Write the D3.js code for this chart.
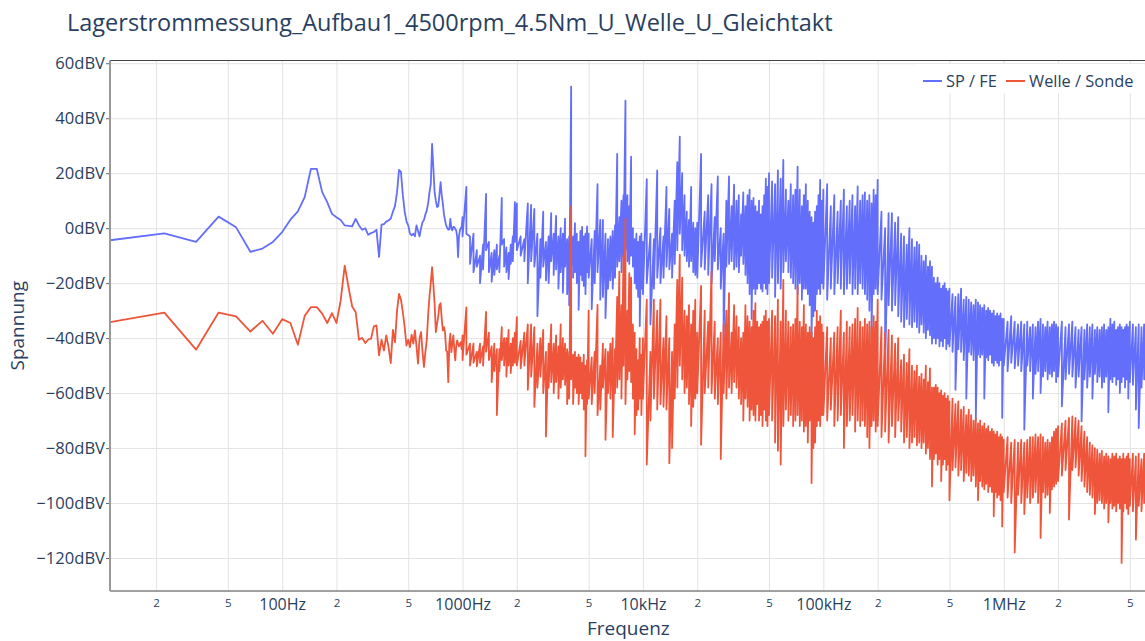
<!DOCTYPE html>
<html>
<head>
<meta charset="utf-8">
<script src="https://cdn.jsdelivr.net/npm/d3@7"></script>
<style>
  html, body { margin: 0; padding: 0; background: #fff; }
  svg text { font-family: "Open Sans", "DejaVu Sans", Arial, sans-serif; fill: #2a3f5f; }
</style>
</head>
<body>
<svg id="chart" width="1145" height="641"></svg>
<script>
// ---- Spectrum data -------------------------------------------------------
// FFT bin spacing of the measurement
const binWidthHz = 100 / 9;

// Individual FFT bins k = 1..89 (≈11 Hz .. 990 Hz), level in dBV
const spFeLowDb = [
  -4.4, -1.9, -5, 4.2, 0.3, -8.6, -7.4, -5, -1.4, 3.1,
  6.1, 11.3, 21.6, 21.6, 13.1, 9.5, 5.2, 4, 3, 1,
  0.8, 0.7, 3.4, 1, -0.6, 0, -2.4, -1.8, -1.4, -0.6,
  -10.5, 1.3, 1.5, 2.4, 2.8, 3.5, 6, 8, 13, 21.2,
  20.5, 12, 6, 2.5, 1, -2, -2.6, -2, -3, 1,
  -1, -3, 0, 2.2, 3, 5, 6.4, 9, 13, 16,
  30.7, 22, 13, 10, 7.7, 8, 12, 16.7, 12, 8.9,
  5, 2.8, 1, 0.1, -0.5, -0.5, 3.4, 0, -0.8, 0.5,
  0.4, -0.3, -0.8, -3, -10.5, -3, -0.8, 0, 0.4
];
const welleLowDb = [
  -34.2, -30.7, -44.2, -30.7, -32.1, -37.6, -33.7, -38.4, -33.1, -34.5,
  -42.4, -31.9, -28.7, -28.7, -31.1, -34.5, -30.9, -34.5, -26.3, -13.6,
  -21.5, -28.5, -30.5, -40.6, -39.9, -41.8, -40.5, -40.2, -35.7, -35.4,
  -46.3, -40.6, -44.5, -39, -43.3, -49.1, -37, -41.5, -30, -23.9,
  -26, -30.5, -36, -42.7, -40.6, -43.3, -38.7, -42, -37.2, -43,
  -49.3, -40, -37.8, -45, -50.5, -45, -40.8, -31.7, -25, -20,
  -14.2, -20.5, -27.5, -37.8, -34.8, -32, -28, -27.3, -33, -37.2,
  -36, -38, -44.5, -45, -56, -42, -38.4, -45.1, -42, -39,
  -44, -48.1, -43, -40.8, -42, -43, -42, -41.5, -44
];

// Above 1 kHz the bins are far denser than the pixel grid, so every
// frequency slot keeps the [max, min] level of the bins that fall into it.
const gridDecadesHz = [1e3, 1e4, 1e5, 1e6];
const gridMantissas = [
  1.0, 1.05, 1.1, 1.15, 1.2, 1.25, 1.3, 1.35, 1.4, 1.45, 1.5, 1.55, 1.6, 1.65, 1.7, 1.75, 1.8, 1.85, 1.9, 1.95,
  2.0, 2.1, 2.2, 2.3, 2.4, 2.5, 2.6, 2.7, 2.8, 2.9, 3.0, 3.1, 3.2, 3.3, 3.4, 3.5, 3.6, 3.7, 3.8, 3.9,
  4.0, 4.1, 4.2, 4.3, 4.4, 4.5, 4.6, 4.7, 4.8, 4.9,
  5.0, 5.2, 5.4, 5.6, 5.8, 6.0, 6.2, 6.4, 6.6, 6.8, 7.0, 7.2, 7.4, 7.6, 7.8, 8.0, 8.2, 8.4, 8.6, 8.8,
  9.0, 9.2, 9.4, 9.6, 9.8
];

// SP / FE  [max, min] per slot
const spFe1k = [
  [4,-3],[15,-2],[-3,-13],[-2,-16],[-8,-14],[-10,-20],[-6,-15],[12.5,-8],[-5,-16],[-9,-19.5],
  [-8,-17],[-6,-15],[-10,-16],[11,-6],[-4,-14],[-7,-16],[-9,-18.5],[-6,-13],[-3,-12],[9.5,-5],
  [9,-8],[-3,-10],[-4,-12],[9,-20],[8.5,-12],[7,-14],[-2,-32],[-4,-18],[6,-14],[-5,-19],
  [-3,-20],[5.5,-12],[-2,-17],[4.5,-15],[-3,-22],[0,-16],[-2,-23.5],[3.5,-14],[-4,-24],[-3,-28],
  [51.5,-14],[-3,-18],[1.8,-16],[-2,-20],[-5,-29.7],[-1,-17],[0.5,-19],[-3,-21],[-2,-24],[0.6,-16],
  [-2,-18],[-4,-29.5],[-1,-20],[16,-16],[3,-26],[3,-25],[-2,-32.7],[-4,-22],[-3,-19],[-1,-22],
  [1,-18],[27,-14],[4,-12],[10,-16],[12,-10],[46.4,-8],[12,-12],[8,-13],[26,-10],[0,-14],
  [-4,-20],[-2,-22],[-5,-25],[-3,-35.6],[-2,-22]
];
const spFe10k = [
  [-5,-24],[17.8,-20],[-2,-35],[-4,-22],[21,-18],[0,-20],[-3,-18],[15,-14],[7,-15],[-2,-18],
  [10,-13],[24,-8],[33.3,-2],[20,-8],[12,-10],[6,-12],[3,-14],[15,-12],[2,-16],[0,-17],
  [2,-18],[27,-14],[6,-15],[12,-17],[16,-20],[4,-12],[18.8,-15],[0,-22],[-2,-41],[10,-14],
  [18.8,-13],[8,-12],[15.8,-15],[10,-14],[12,-16],[5,-10],[13,-13],[8,-17],[12,-20],[14,-24],
  [10,-33],[11,-22],[8,-24],[6,-22],[10,-20],[5,-22],[8,-23],[12,-20],[18,-22],[15,-24],
  [20,-20],[17,-18],[16,-25],[21,-20],[18,-22],[24.8,-16],[14,-12],[10,-16],[16,-18],[12,-20],
  [14,-22],[22.4,-24],[14,-20],[8,-26],[12,-22],[16,-22],[10,-24],[6,-28],[4,-40.6],[2,-32],
  [6,-30],[8,-24],[12,-22],[17.6,-24],[10,-20]
];
const spFe100k = [
  [14,-22],[16,-26],[8,-22],[12,-24],[6,-20],[10,-22],[14,-24],[8,-22],[10,-20],[12,-24],
  [8,-22],[15.2,-24],[10,-20],[12,-22],[13,-24],[10,-26],[12,-30],[9,-40],[14,-24],[12,-22],
  [17.6,-24],[6,-26],[0,-49],[5.5,-28],[5.5,-30],[2,-28],[4,-32],[-2,-34],[-3,-36],[-6,-33],
  [0,-35],[-4,-36],[-7,-34],[-5,-36],[-6,-38],[-10,-35],[-12,-38],[-10,-40],[-14,-37],[-12,-39],
  [-14,-42],[-18,-40],[-20,-42],[-18,-40],[-20,-43],[-22,-41],[-21,-43],[-20,-40],[-22,-44],[-23,-42],
  [-22,-43],[-24,-45],[-25,-58.8],[-24,-44],[-22,-45],[-26,-48],[-25,-62],[-26,-45],[-27,-46],[-28,-48],
  [-26,-69.7],[-27,-46],[-28,-47],[-29,-46],[-28,-62],[-30,-47],[-29,-48],[-30,-46],[-31,-49],[-30,-50],
  [-32,-48],[-31,-49],[-32,-50],[-31,-48],[-33,-69]
];
const spFe1M = [
  [-33,-50],[-34,-52],[-32,-49],[-34,-51],[-35,-50],[-34,-52],[-35,-73.3],[-34,-50],[-36,-52],[-35,-62],
  [-36,-53],[-34,-52],[-33,-60],[-35,-54],[-36,-52],[-34,-55],[-36,-53],[-35,-54],[-34,-52],[-35,-56],
  [-36,-54],[-34,-64.8],[-36,-55],[-35,-53],[-34,-54],[-36,-58],[-37,-54],[-36,-70.3],[-37,-55],[-35,-58],
  [-36,-54],[-35,-62],[-37,-53],[-36,-56],[-37,-54],[-36,-58],[-35,-56],[-37,-54],[-36,-67],[-33,-55],
  [-35,-56],[-34,-54],[-37,-57],[-36,-55],[-35,-60],[-36,-56],[-37,-54],[-36,-58],[-35,-55],[-36,-62],
  [-34,-56],[-35,-57],[-36,-66],[-35,-72.7],[-36,-58],[-35,-55],[-36,-62]
];

// Welle / Sonde  [max, min] per slot
const welle1k = [
  [-39,-48],[-28.8,-46],[-42,-50],[-42,-49],[-45,-50.3],[-42,-49],[-43,-50],[-30.5,-45],[-38,-48],[-43,-56],
  [-42,-52],[-44,-68],[-44,-52],[-36,-48],[-40,-50],[-40,-54],[-37,-50],[-42,-52.7],[-40,-50],[-38,-49],
  [-32.4,-50],[-41,-51],[-38,-50],[-35,-58.8],[-35,-54],[-36,-65],[-42,-58],[-40,-54],[-37,-60],[-45,-75.8],
  [-42,-58],[-35,-56],[-42,-60],[-39,-56],[-43,-62],[-35,-58],[-40,-55],[-42,-57],[-44,-64],[-45,-62],
  [7.9,-55],[-46,-64],[-45,-58],[-47,-60],[-46,-64],[-47,-60],[-49,-62],[-46,-66],[-50,-83],[-48,-64],
  [-30,-62],[-47,-64],[-45,-60],[-27.9,-68],[-50,-66],[-42,-58],[-44,-77],[-45,-60],[-42,-62],[-40,-76],
  [-44,-60],[-25,-58],[-15.8,-55],[-28,-62],[-10,-50],[3.5,-64],[-30,-55],[-16.4,-52],[-18,-56],[-35,-62],
  [-38,-75],[-44,-68],[-48,-66],[-40,-62],[-46,-68]
];
const welle10k = [
  [-40,-62],[-26,-86],[-45,-70],[-26,-62],[-30,-66],[-26,-64],[-40,-65],[-32,-66],[-40,-85.5],[-45,-80],
  [-35,-62],[-18.8,-58],[-9.7,-50],[-18,-55],[-30,-60],[-32,-58],[-28,-64],[-35,-72],[-30,-65],[-26,-62],
  [-38,-60],[-21,-78.8],[-30,-60],[-34,-58],[-15.8,-60],[-34,-62],[-40,-64],[-38,-84],[-35,-60],[-30,-62],
  [-23.6,-58],[-38,-60],[-28,-56],[-32,-58],[-36,-62],[-40,-64],[-38,-70],[-28,-62],[-32,-65],[-34,-70],
  [-36,-66],[-30,-68],[-27.3,-70],[-34,-64],[-36,-70],[-35,-68],[-34,-72],[-32,-66],[-30,-70],[-34,-72],
  [-33,-68],[-30,-70],[-32,-78],[-26,-81],[-34,-86],[-18.8,-72],[-30,-66],[-34,-70],[-36,-68],[-35,-72],
  [-33,-70],[-21.2,-68],[-34,-72],[-36,-70],[-28,-74],[-35,-72],[-38,-78],[-36,-70],[-38,-92.7],[-40,-80],
  [-36,-78],[-30,-72],[-34,-70],[-32,-72],[-35,-68]
];
const welle100k = [
  [-38,-68],[-36,-70],[-40,-66],[-38,-72],[-36,-70],[-30,-68],[-38,-80],[-34,-72],[-36,-70],[-35,-68],
  [-33,-74],[-29,-70],[-34,-72],[-36,-70],[-33,-72],[-35,-76],[-34,-80],[-36,-72],[-32,-70],[-34,-74],
  [-26,-72],[-36,-76],[-38,-74],[-37,-78],[-39,-72],[-42,-76],[-40,-70],[-48,-74],[-46,-78],[-49,-76],
  [-44,-80],[-50,-78],[-52,-76],[-50,-79],[-54,-78],[-53,-80],[-55,-78],[-50,-82],[-56,-80],[-51,-84],
  [-58,-94],[-58,-84],[-57,-82],[-58,-86],[-60,-84],[-59,-92],[-61,-86],[-60,-84],[-62,-88],[-61,-86],
  [-63,-99],[-62,-88],[-64,-87],[-63,-90],[-66,-88],[-65,-92],[-68,-89],[-66,-90],[-68,-92],[-70,-90],
  [-69,-94],[-71,-99],[-70,-92],[-72,-94],[-71,-95],[-73,-93],[-72,-96],[-74,-94],[-73,-96],[-74,-104.8],
  [-75,-96],[-74,-98],[-76,-97],[-75,-99],[-76,-108.5]
];
const welle1M = [
  [-77,-96],[-76,-98],[-78,-100],[-77,-118],[-78,-97],[-77,-100],[-78,-104],[-77,-98],[-76,-100],[-76,-98],
  [-75,-96],[-76,-100],[-75,-112.7],[-76,-96],[-78,-98],[-77,-97],[-78,-103.6],[-76,-95],[-74,-94],[-73,-93],
  [-72,-92],[-71,-90],[-70,-88],[-69,-106],[-68.5,-88],[-69,-87],[-70,-90],[-72,-92],[-74,-94],[-76,-96],
  [-78,-97],[-79,-98],[-80,-104],[-80.6,-100],[-82,-99],[-81,-100],[-83,-102],[-82,-100],[-83,-107],[-84,-100],
  [-82,-102],[-83,-101],[-82,-103],[-84,-100],[-83,-102],[-84,-121.8],[-82,-103],[-84,-100],[-83,-102],[-82,-104],
  [-84,-101],[-82,-103],[-83,-113.3],[-82,-101],[-84,-103],[-82,-100],[-83,-102]
];

// ---- Axis ticks ------------------------------------------------------------
const majorTicksHz = [100, 1000, 1e4, 1e5, 1e6];
const majorTickLabels = ["100Hz", "1000Hz", "10kHz", "100kHz", "1MHz"];
const minorTicksHz = [20, 50, 200, 500, 2000, 5000, 2e4, 5e4, 2e5, 5e5, 2e6, 5e6];
const yTicksDb = [60, 40, 20, 0, -20, -40, -60, -80, -100, -120];

const seriesNames = ["SP / FE", "Welle / Sonde"];
const seriesColors = ["#636efa", "#ef553b"];

// ---- Layout ------------------------------------------------------------------
const W = 1145, H = 641;
const plot = { left: 110, right: 1146.7, top: 60.5, bottom: 591 };

const x = d3.scaleLog().domain([binWidthHz, 6.2e6]).range([plot.left, plot.right]);
const y = d3.scaleLinear().domain([-132, 61]).range([plot.bottom, plot.top]);

const svg = d3.select("#chart");

svg.append("defs").append("clipPath").attr("id", "plot-clip")
  .append("rect")
  .attr("x", plot.left).attr("y", plot.top)
  .attr("width", W - plot.left).attr("height", plot.bottom - plot.top);

// Grid lines
const allXTicks = majorTicksHz.concat(minorTicksHz).sort((a, b) => a - b);
const gridX = svg.append("g")
  .attr("transform", `translate(0,${plot.bottom})`)
  .call(d3.axisBottom(x).tickValues(allXTicks).tickSize(-(plot.bottom - plot.top)).tickFormat(""));
gridX.select(".domain").remove();
gridX.selectAll(".tick line").attr("stroke", "#e3e3e3").attr("stroke-width", 1);

const gridY = svg.append("g")
  .attr("transform", `translate(${plot.left},0)`)
  .call(d3.axisLeft(y).tickValues(yTicksDb).tickSize(-(W - plot.left)).tickFormat(""));
gridY.select(".domain").remove();
gridY.selectAll(".tick line").attr("stroke", "#e3e3e3").attr("stroke-width", 1);

// Series
function buildSeries(lowDb, decadeSlots) {
  const pts = lowDb.map((v, i) => [(i + 1) * binWidthHz, v]);
  decadeSlots.forEach((slots, d) => {
    slots.forEach(([hi, lo], i) => {
      const f = gridDecadesHz[d] * gridMantissas[i];
      pts.push([f, hi], [f, lo]);
    });
  });
  return pts;
}
const series = [
  buildSeries(spFeLowDb, [spFe1k, spFe10k, spFe100k, spFe1M]),
  buildSeries(welleLowDb, [welle1k, welle10k, welle100k, welle1M])
];

const line = d3.line().x(d => x(d[0])).y(d => y(d[1]));
const traces = svg.append("g").attr("clip-path", "url(#plot-clip)");
series.forEach((pts, i) => {
  traces.append("path")
    .datum(pts)
    .attr("d", line)
    .attr("fill", "none")
    .attr("stroke", seriesColors[i])
    .attr("stroke-width", 1.8)
    .attr("stroke-linejoin", "round");
});

// Axis lines
svg.append("line").attr("x1", plot.left).attr("x2", W).attr("y1", plot.top).attr("y2", plot.top)
  .attr("stroke", "#444").attr("stroke-width", 1);
svg.append("line").attr("x1", plot.left).attr("x2", W).attr("y1", plot.bottom).attr("y2", plot.bottom)
  .attr("stroke", "#444").attr("stroke-width", 1);
svg.append("line").attr("x1", plot.left).attr("x2", plot.left).attr("y1", plot.top).attr("y2", plot.bottom)
  .attr("stroke", "#999").attr("stroke-width", 2);

// Y axis ticks and labels
const yAxis = svg.append("g")
  .attr("transform", `translate(${plot.left - 1},0)`)
  .call(d3.axisLeft(y).tickValues(yTicksDb).tickSize(3).tickPadding(1)
    .tickFormat(v => `${v < 0 ? "\u2212" + Math.abs(v) : v}dBV`));
yAxis.select(".domain").remove();
yAxis.selectAll(".tick line").attr("stroke", "#666");
yAxis.selectAll(".tick text").attr("font-size", 16.6).attr("fill", "#2a3f5f");

// X axis labels: decades with unit, 2 and 5 as small digits
const majorLabel = new Map(majorTicksHz.map((v, i) => [v, majorTickLabels[i]]));
const xAxis = svg.append("g")
  .attr("transform", `translate(0,${plot.bottom})`)
  .call(d3.axisBottom(x).tickValues(allXTicks).tickSize(0).tickPadding(8)
    .tickFormat(v => majorLabel.has(v) ? majorLabel.get(v) : String(Math.round(v / Math.pow(10, Math.floor(Math.log10(v) + 1e-9))))));
xAxis.select(".domain").remove();
xAxis.selectAll(".tick text")
  .attr("font-size", v => majorLabel.has(v) ? 16 : 11.5)
  .attr("fill", "#2a3f5f");

// Titles
svg.append("text").attr("x", 67).attr("y", 31).attr("font-size", 23.5)
  .text("Lagerstrommessung_Aufbau1_4500rpm_4.5Nm_U_Welle_U_Gleichtakt");
svg.append("text").attr("x", (plot.left + plot.right) / 2).attr("y", 635)
  .attr("text-anchor", "middle").attr("font-size", 19).text("Frequenz");
svg.append("text")
  .attr("transform", `translate(24,${(plot.top + plot.bottom) / 2}) rotate(-90)`)
  .attr("text-anchor", "middle").attr("font-size", 19).text("Spannung");

// Legend
const legend = svg.append("g");
legend.append("rect").attr("x", 915).attr("y", 64).attr("width", 228).attr("height", 29).attr("fill", "#fff");
const legendItems = [{ x: 923 }, { x: 1006 }];
legendItems.forEach((it, i) => {
  legend.append("line").attr("x1", it.x).attr("x2", it.x + 19).attr("y1", 81).attr("y2", 81)
    .attr("stroke", seriesColors[i]).attr("stroke-width", 2);
  legend.append("text").attr("x", it.x + 23).attr("y", 86.5).attr("font-size", 16.4).text(seriesNames[i]);
});
</script>
</body>
</html>
